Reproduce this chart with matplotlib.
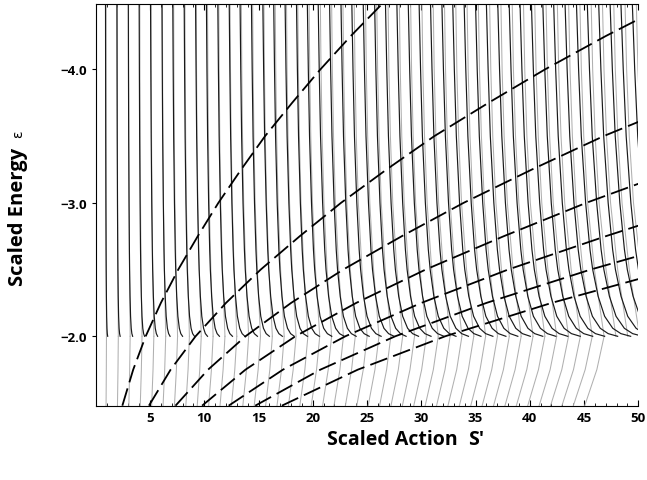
import matplotlib
matplotlib.use('Agg')
import matplotlib.pyplot as plt
import numpy as np

# black curves: scaled action read at eps=-4.5 (top) and at eps=-2.0 (end)
black_top = [0.9, 1.95, 3.0, 4.0, 5.05, 6.1, 7.1, 8.15, 9.2, 10.2, 11.25, 12.3,
             13.3, 14.35, 15.4, 16.4, 17.45, 18.5, 19.5, 20.5, 21.55, 22.6, 23.6,
             24.65, 25.7, 26.7, 27.75, 28.8, 29.8, 30.85, 31.9, 32.9, 33.95, 35.0,
             36.0, 37.05, 38.1, 39.1, 40.15, 41.2, 42.2, 43.25, 44.3, 45.3, 46.35,
             47.4, 48.4, 49.45]
black_end = [1.1, 2.25, 3.4, 4.5, 5.7, 6.85, 8.0, 9.1, 10.3, 11.4, 12.6, 13.75,
             14.9, 16.0, 17.2, 18.3, 19.5, 20.6, 21.75, 22.9, 24.0, 25.2, 26.3,
             27.5, 28.6, 29.75, 30.9, 32.1, 33.2, 34.35, 35.5, 36.6, 37.8, 38.9,
             40.05, 41.2, 42.4, 43.5, 44.65, 45.8, 46.9, 48.1, 49.3, 50.4, 51.5,
             52.7, 53.8, 55.0]
# how far along (top -> end) each black curve has drifted at these energies
eps_black = [-4.5, -4.0, -3.5, -3.0, -2.65, -2.5, -2.3, -2.15, -2.06, -2.02, -2.0]
black_drift = [0.0, 0.04, 0.09, 0.17, 0.25, 0.30, 0.40, 0.52, 0.67, 0.82, 1.0]

# gray curves: action at eps=-4.5 and relative stretch at each energy
gray_top = [0.94, 1.98, 3.02, 4.06, 5.1, 6.14, 7.18, 8.22, 9.26, 10.3, 11.34,
            12.38, 13.42, 14.46, 15.5, 16.54, 17.58, 18.62, 19.66, 20.7, 21.74,
            22.78, 23.82, 24.86, 25.9, 26.94, 27.98, 29.02, 30.06, 31.1, 32.14,
            33.18, 34.22, 35.26, 36.3, 37.34, 38.38, 39.42, 40.46, 41.5, 42.54,
            43.58, 44.62, 45.66, 46.7, 47.74, 48.78, 49.82]
eps_gray_up = [-4.5, -4.0, -3.5, -3.0, -2.5, -2.0]
gray_stretch_up = [1.0, 1.003, 1.008, 1.016, 1.03, 1.05]
eps_gray_low = [-2.0, -1.75, -1.48]
gray_stretch_low = [1.05, 1.035, 1.01]
gray_low_count = 43   # only these continue below eps=-2

eps_dash = [-1.48, -1.75, -2.0, -2.25, -2.5, -2.75, -3.0, -3.25, -3.5, -3.75,
            -4.0, -4.25, -4.5]
dash_base = [2.45, 3.45, 4.6, 6.0, 7.6, 9.4, 11.3, 13.4, 15.6, 18.1, 20.7,
             23.5, 26.5]
dash_reps = [1, 2, 3, 4, 5, 6, 7]

fig = plt.figure(figsize=(6.47, 4.81), dpi=100)
ax = fig.add_axes([0.148, 0.1545, 0.8385, 0.835])

for i in range(len(gray_top)):
    ax.plot(np.multiply(gray_top[i], gray_stretch_up), eps_gray_up,
            color='#b0b0b0', lw=0.75)
    if i < gray_low_count:
        ax.plot(np.multiply(gray_top[i], gray_stretch_low), eps_gray_low,
                color='#b0b0b0', lw=0.75)

for i in range(len(black_top)):
    s = np.add(black_top[i], np.multiply(black_end[i] - black_top[i], black_drift))
    ax.plot(s, eps_black, color='#1a1a1a', lw=0.85)

for k in dash_reps:
    ax.plot(np.multiply(k, dash_base), eps_dash, color='black', lw=1.3,
            dashes=(10, 3.5))

ax.set_xlim(0, 50)
ax.set_ylim(-1.48, -4.49)
ax.spines['right'].set_visible(False)
ax.set_xticks([5, 10, 15, 20, 25, 30, 35, 40, 45, 50])
ax.set_xticks(np.arange(1, 50), minor=True)
ax.set_yticks([-4.0, -3.0, -2.0])
ax.set_yticklabels(['\u22124.0', '\u22123.0', '\u22122.0'])
ax.tick_params(axis='x', direction='in', length=4, top=True, labelsize=9.5, pad=4)
ax.tick_params(axis='x', which='minor', direction='in', length=2, top=True)
ax.tick_params(axis='y', direction='out', length=3, labelsize=9.5)
for lab in ax.get_xticklabels() + ax.get_yticklabels():
    lab.set_fontweight('bold')
    lab.set_family('Open Sans')

fig.text(0.028, 0.549, 'Scaled Energy', rotation=90, fontsize=14.5,
         fontweight='bold', ha='center', va='center', family='Open Sans')
fig.text(0.028, 0.72, '\u03b5', rotation=90, fontsize=10,
         ha='center', va='center')
fig.text(0.505, 0.085, 'Scaled Action', fontsize=14, fontweight='bold',
         ha='left', va='center', family='Open Sans')
fig.text(0.724, 0.085, "S'", fontsize=14, fontweight='bold',
         ha='left', va='center', family='Open Sans')

fig.savefig('out.png', dpi=100)
